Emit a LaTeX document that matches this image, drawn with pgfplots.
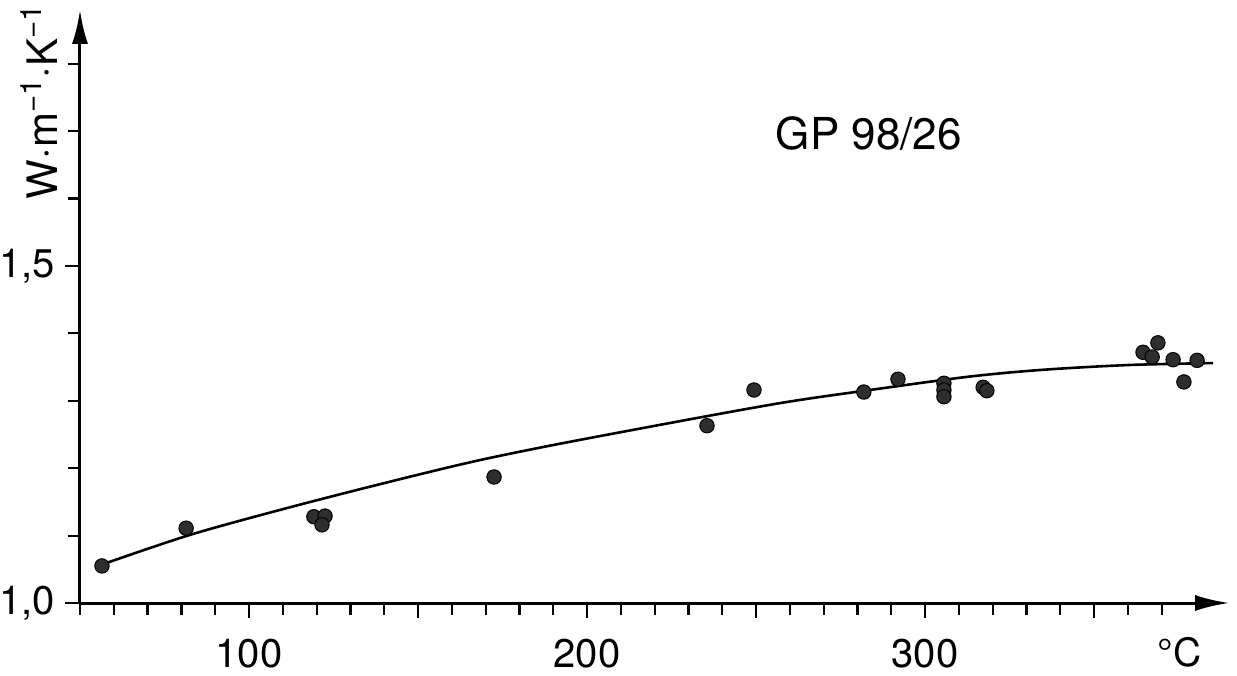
\documentclass[border=0pt]{standalone}
\usepackage{pgfplots}
\pgfplotsset{compat=1.18}
\usepackage{fontspec}
\setmainfont{TeX Gyre Heros}
\usetikzlibrary{arrows.meta}

\begin{document}
\begin{tikzpicture}
\begin{axis}[
  at={(0,0)}, anchor=south west,
  x=1.69pt, y=337pt,
  xmin=50, xmax=390, ymin=1.0, ymax=1.88,
  axis lines=left,
  axis line style={line width=1.5pt, -{Latex[length=17pt,width=8pt]}},
  clip=false,
  xtick={100,200,300}, xticklabels={100,200,300},
  minor xtick={50,60,...,370},
  extra x ticks={150,250,350}, extra x tick labels={},
  ytick={1.0,1.5}, yticklabels={{1,0},{1,5}},
  minor ytick={1.1,1.2,1.3,1.4,1.6,1.7,1.8},
  tick align=outside,
  major tick length=7.5pt, minor tick length=6pt,
  every tick/.style={black, line width=1.1pt},
  /pgf/number format/assume math mode=true,
  ticklabel style={font=\fontsize{20}{24}\selectfont},
  xticklabel style={yshift=-7pt},
  yticklabel style={xshift=-1.5pt},
]
\addplot[smooth, line width=1.3pt, black, no marks] coordinates {
(55.9,1.056) (82.5,1.101) (112.1,1.142) (141.7,1.180) (168.3,1.212)
(197.9,1.242) (254.1,1.294) (283.7,1.316) (313.3,1.336)
(334.9,1.346) (359.8,1.353) (385.2,1.356)
};
\addplot[only marks, mark=*, mark size=3.6pt, mark options={fill=black!82, draw=black, line width=0.5pt}] coordinates {
(56.5,1.055) (81.4,1.111) (119.2,1.128) (122.5,1.129) (121.6,1.116)
(172.5,1.187) (235.5,1.263) (249.4,1.316) (281.9,1.313) (292.0,1.332)
(305.6,1.326) (305.6,1.316) (305.6,1.306) (317.2,1.320) (318.3,1.315)
(364.5,1.372) (368.9,1.386) (367.2,1.365) (373.4,1.361) (380.5,1.360)
(376.6,1.328)
};
\node[rotate=90, font=\fontsize{21}{24}\selectfont] at (axis cs:37.9,1.744) {W·m\textsuperscript{\textminus1}·K\textsuperscript{\textminus1}};
\node[font=\fontsize{22}{26}\selectfont] at (axis cs:283.4,1.696) {GP 98/26};
\node[font=\fontsize{19.5}{23}\selectfont] at (axis cs:375.4,0.927) {°C};
\end{axis}
\pgfresetboundingbox
\useasboundingbox (-40pt,-36pt) rectangle (578.5pt,301.5pt);
\end{tikzpicture}
\end{document}
